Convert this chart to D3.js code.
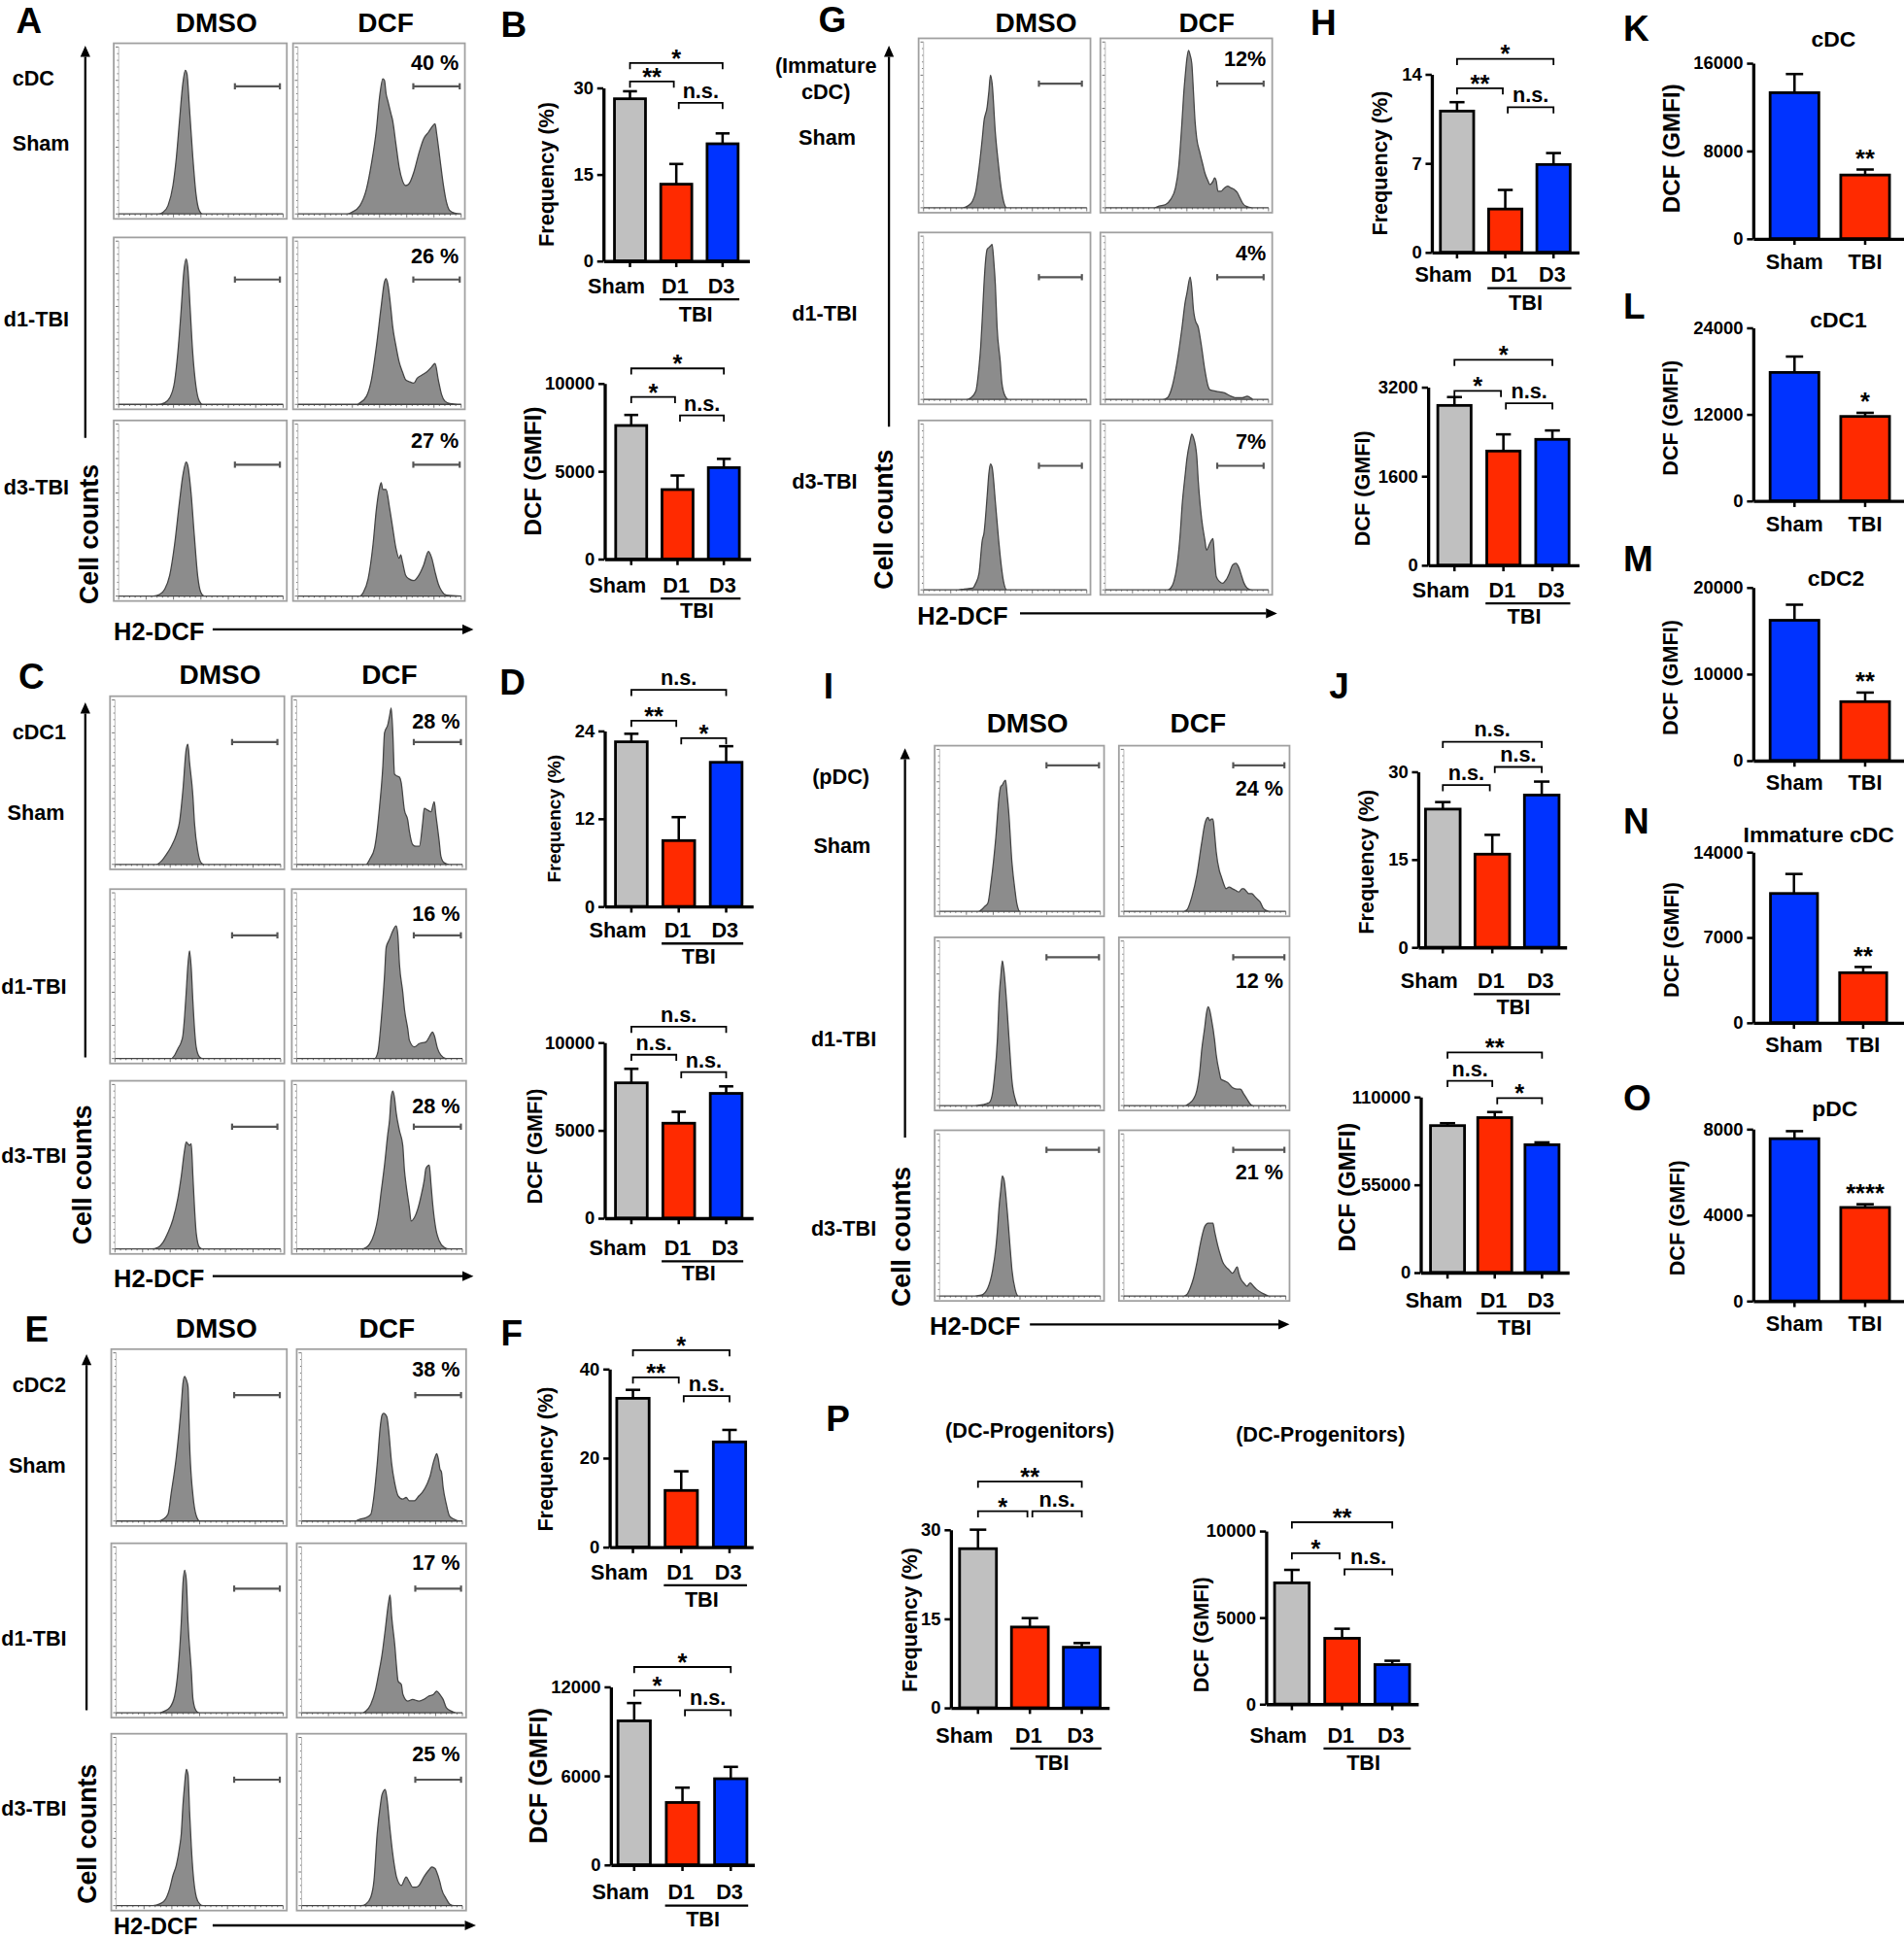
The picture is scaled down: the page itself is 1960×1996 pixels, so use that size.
<!DOCTYPE html>
<html><head><meta charset="utf-8">
<script src="https://cdn.jsdelivr.net/npm/d3@7"></script>
<style>
html,body{margin:0;padding:0;background:#fff;}
svg text{font-family:"Liberation Sans",Arial,Helvetica,sans-serif;font-weight:bold;fill:#000;}
</style></head><body>
<svg id="fig" width="1960" height="1996" style="background:#fff"></svg>
<script>
// ================= DATA =================
const groups3 = ["Sham","D1","D3"];
const groups2 = ["Sham","TBI"];
const colors3 = ["#c0c0c0","#ff2a00","#0033ff"];
const colors2 = ["#0033ff","#ff2a00"];

// Panel B (cDC)
const bFreqMean = [28.1, 13.3, 20.3], bFreqErr = [1.3, 3.5, 1.8];
const bGmfiMean = [7600, 3950, 5200], bGmfiErr = [600, 800, 500];
// Panel D (cDC1)
const dFreqMean = [22.5, 9.0, 19.7], dFreqErr = [1.1, 3.2, 2.2];
const dGmfiMean = [7700, 5400, 7100], dGmfiErr = [800, 650, 400];
// Panel F (cDC2)
const fFreqMean = [33.4, 12.7, 23.6], fFreqErr = [1.9, 4.3, 2.7];
const fGmfiMean = [9700, 4200, 5800], fGmfiErr = [1200, 1000, 800];
// Panel H (immature cDC)
const hFreqMean = [11.1, 3.4, 6.9], hFreqErr = [0.7, 1.5, 0.9];
const hGmfiMean = [2870, 2050, 2260], hGmfiErr = [150, 300, 160];
// Panel J (pDC)
const jFreqMean = [23.6, 15.9, 26.0], jFreqErr = [1.2, 3.3, 2.3];
const jGmfiMean = [92000, 97000, 80000], jGmfiErr = [1500, 3500, 1500];
// Panel P (DC progenitors)
const pFreqMean = [26.8, 13.6, 10.2], pFreqErr = [3.2, 1.5, 0.7];
const pGmfiMean = [7000, 3800, 2280], pGmfiErr = [750, 550, 220];
// Panels K-O (Sham vs TBI)
const kMean = [13300, 5800], kErr = [1700, 500];
const lMean = [17800, 11700], lErr = [2200, 500];
const mMean = [16200, 6800], mErr = [1800, 1050];
const nMean = [10600, 4100], nErr = [1600, 470];
const oMean = [7550, 4350], oErr = [350, 150];

// Tick labels
const ticksB1 = [0,15,30], ticksB2 = [0,5000,10000];
const ticksD1 = [0,12,24], ticksD2 = [0,5000,10000];
const ticksF1 = [0,20,40], ticksF2 = [0,6000,12000];
const ticksH1 = [0,7,14], ticksH2 = [0,1600,3200];
const ticksJ1 = [0,15,30], ticksJ2 = [0,55000,110000];
const ticksP1 = [0,15,30], ticksP2 = [0,5000,10000];
const ticksK = [0,8000,16000], ticksL = [0,12000,24000], ticksM = [0,10000,20000];
const ticksN = [0,7000,14000], ticksO = [0,4000,8000];

// Significance brackets: [fromIdx, toIdx, level (data units), label]
const sigB1 = [[0,2,34.3,"*"],[0,1,31.1,"**"],[1,2,27.4,"n.s."]];
const sigB2 = [[0,2,10850,"*"],[0,1,9220,"*"],[1,2,8170,"n.s."]];
const sigD1 = [[0,2,29.6,"n.s."],[0,1,25.4,"**"],[1,2,23.0,"*"]];
const sigD2 = [[0,2,10900,"n.s."],[0,1,9300,"n.s."],[1,2,8310,"n.s."]];
const sigF1 = [[0,2,44.2,"*"],[0,1,38.1,"**"],[1,2,33.9,"n.s."]];
const sigF2 = [[0,2,13330,"*"],[0,1,11750,"*"],[1,2,10420,"n.s."]];
const sigH1 = [[0,2,15.2,"*"],[0,1,12.9,"**"],[1,2,11.4,"n.s."]];
const sigH2 = [[0,2,3690,"*"],[0,1,3130,"*"],[1,2,2910,"n.s."]];
const sigJ1 = [[0,2,35.1,"n.s."],[1,2,30.8,"n.s."],[0,1,27.7,"n.s."]];
const sigJ2 = [[0,2,137900,"**"],[0,1,120000,"n.s."],[1,2,109200,"*"]];
const sigP1 = [[0,2,38.1,"**"],[0,1,33.1,"*"],[1,2,33.1,"n.s."]];
const sigP2 = [[0,2,10500,"**"],[0,1,8710,"*"],[1,2,7790,"n.s."]];
const starsKO = ["**","*","**","**","****"];

// Flow histograms: [relative H2-DCF channel (0-100), relative cell count (0-100)]
const hA_dmso_sham = [[0,0],[24,0],[27,1],[30,5],[33,17],[35,33],[37,56],[39,78],[40.5,86],[41.5,84],[43,64],[45,35],[47,12],[49,2],[51,0],[100,0]];
const hA_dmso_d1 = [[0,0],[24,0],[28,1],[31,4],[34,14],[36,32],[38,58],[39.5,80],[41,89],[42,84],[43.5,58],[45,32],[47,11],[49,2],[51,0],[100,0]];
const hA_dmso_d3 = [[0,0],[21,0],[25,1],[28,4],[31,12],[34,30],[37,55],[39,70],[41,78],[42,76],[44,60],[46,35],[48,12],[50,2],[52,0],[100,0]];
const hA_dcf_sham = [[0,0],[30,0],[33,1],[38,5],[42,15],[45,30],[48,50],[50,70],[52,81],[53,80],[54,72],[55,68],[57,60],[58,56],[60,42],[62,28],[64,20],[66,17],[68,18],[71,25],[74,36],[77,45],[80,49],[82,52],[84,54],[85,48],[87,33],[89,18],[91,7],[93,2],[96,0.5],[100,0]];
const hA_dcf_d1 = [[0,0],[36,0],[38,1],[42,5],[45,15],[48,35],[51,60],[53,75],[54,77],[55,74],[57,58],[58,48],[60,36],[62,26],[64,20],[66,15],[68,14],[71,13],[73,16],[76,18],[79,20],[82,23],[84,25],[86,15],[88,6],[90,2],[93,0.5],[100,0]];
const hA_dcf_d3 = [[0,0],[38,0],[40,2],[43,10],[46,30],[48,50],[50,63],[51,66],[52,62],[54,62],[56,52],[58,40],[60,28],[62,22],[63,24],[64,20],[66,12],[68,10],[71,9],[74,12],[77,18],[80,26],[82,22],[84,14],[86,7],[88,3],[91,0.5],[100,0]];

const hC_dmso_sham = [[0,0],[25,0],[28,2],[31,6],[34,11],[37,18],[39,26],[41,45],[43,70],[44,73],[45,62],[47,42],[48,25],[50,8],[52,1],[54,0],[100,0]];
const hC_dmso_d1 = [[0,0],[34,0],[36,2],[38,6],[40,10],[41,14],[42,25],[43,40],[44,56],[45,65],[46,55],[47,35],[48,18],[49,7],[51,1],[53,0],[100,0]];
const hC_dmso_d3 = [[0,0],[22,0],[26,1],[29,4],[32,10],[35,18],[38,31],[40,44],[42,60],[43,65],[45,63],[46,64],[47,45],[48,25],[49,10],[51,1],[53,0],[100,0]];
const hC_dcf_sham = [[0,0],[42,0],[44,3],[47,10],[48,16],[50,35],[52,60],[53,80],[55,85],[56,90],[57,95],[58,80],[59,55],[60,54],[62,53],[63,50],[65,33],[67,27],[68,20],[70,12],[72,11],[74,11],[76,25],[77,34],[79,33],[81,32],[83,38],[84,30],[86,14],[87,5],[89,1],[92,0],[100,0]];
const hC_dcf_d1 = [[0,0],[47,0],[49,4],[51,23],[53,50],[54,67],[56,72],[58,77],[60,80],[61,75],[62,57],[64,40],[65,30],[67,18],[68,11],[71,7],[74,9],[78,10],[80,13],[82,16],[83,14],[85,6],[87,2],[90,0],[100,0]];
const hC_dcf_d3 = [[0,0],[39,0],[42,1],[44,3],[47,10],[49,19],[51,35],[53,51],[55,70],[56,78],[57,92],[58,96],[59,92],[60,83],[62,72],[64,63],[65,48],[66,39],[68,25],[69,17],[71,19],[73,24],[75,32],[77,42],[78,49],[80,51],[81,40],[82,28],[84,12],[86,5],[89,1],[92,0],[100,0]];

const hE_dmso_sham = [[0,0],[25,0],[28,1],[31,4],[33,17],[36,38],[39,69],[40,82],[41,86],[42,84],[43,80],[44,45],[46,15],[48,3],[50,0],[100,0]];
const hE_dmso_d1 = [[0,0],[26,0],[29,1],[32,3],[35,10],[37,25],[39,55],[40,78],[41,86],[42,80],[43,55],[45,25],[46,8],[48,1],[50,0],[100,0]];
const hE_dmso_d3 = [[0,0],[22,0],[26,1],[29,3],[32,10],[34,18],[36,24],[38,35],[39,43],[40,60],[41,72],[42,81],[43,78],[44,55],[45,35],[46,20],[48,5],[50,1],[52,0],[100,0]];
const hE_dcf_sham = [[0,0],[33,0],[36,1],[40,2],[43,4],[45,15],[47,34],[49,57],[50,63],[51,64],[53,62],[54,55],[56,34],[58,22],[60,15],[63,13],[65,14],[67,12],[70,12],[73,15],[75,17],[78,22],[80,27],[82,35],[83,38],[84,40],[85,37],[86,31],[87,29],[88,20],[90,10],[92,3],[95,1],[98,0],[100,0]];
const hE_dcf_d1 = [[0,0],[38,0],[40,1],[43,5],[46,14],[48,24],[50,35],[52,50],[54,66],[55,71],[56,58],[58,40],[59,28],[60,19],[62,17],[63,11],[66,7],[69,8],[73,7],[76,8],[79,10],[82,11],[84,13],[86,11],[88,8],[90,3],[93,1],[96,0],[100,0]];
const hE_dcf_d3 = [[0,0],[37,0],[40,1],[43,5],[45,15],[47,43],[49,60],[50,66],[52,69],[53,64],[55,45],[56,36],[58,22],[59,17],[62,12],[65,17],[67,14],[69,11],[71,11],[73,12],[76,17],[79,21],[81,23],[83,22],[84,20],[86,14],[87,10],[90,4],[92,1],[95,0],[100,0]];

const hG_dmso_sham = [[0,0],[24,0],[27,1],[30,4],[32,10],[34,24],[36,42],[37,52],[39,61],[40,70],[41,80],[42,75],[44,45],[46,25],[47,16],[49,4],[51,0],[100,0]];
const hG_dmso_d1 = [[0,0],[26,0],[29,1],[32,5],[34,20],[35,32],[36,50],[37,70],[38,85],[39,92],[40,93],[41,94],[42,95],[43,85],[44,70],[45,45],[47,23],[48,10],[50,2],[52,0],[100,0]];
const hG_dmso_d3 = [[0,0],[20,0],[25,0.5],[30,1],[32,4],[34,10],[36,30],[37,34],[39,57],[40,70],[41,76],[42,74],[44,53],[46,30],[47,20],[49,5],[51,0],[100,0]];
const hG_dcf_sham = [[0,0],[30,0],[33,1],[37,2],[40,5],[43,12],[45,25],[47,52],[48,68],[49,80],[50,90],[51,95],[52,92],[53,87],[54,70],[55,52],[56,42],[58,33],[60,25],[61,21],[63,16],[64,14],[66,16],[67,18],[68,16],[69,10],[71,10],[73,12],[75,13],[77,12],[79,11],[81,9],[82,7],[84,3],[86,1],[90,0],[100,0]];
const hG_dcf_d1 = [[0,0],[35,0],[38,1],[41,8],[44,23],[47,44],[49,60],[50,65],[52,75],[53,68],[54,55],[55,49],[57,44],[59,32],[61,18],[63,8],[64,6],[68,5],[73,4],[77,2],[80,1],[84,1],[87,2],[89,1],[91,0],[100,0]];
const hG_dcf_d3 = [[0,0],[38,0],[40,1],[42,5],[44,15],[46,35],[47,50],[49,70],[50,79],[52,90],[53,94],[54,92],[56,81],[57,65],[59,43],[61,30],[62,24],[64,28],[66,31],[67,18],[68,8],[70,5],[72,4],[74,6],[76,10],[78,15],[80,16],[82,13],[83,10],[85,4],[87,1],[90,0],[100,0]];

const hI_dmso_sham = [[0,0],[24,0],[26,1],[28,3],[30,5],[32,18],[35,46],[37,71],[38,77],[39,78],[40,80],[41,81],[42,72],[43,61],[45,30],[47,12],[48,5],[50,0],[100,0]];
const hI_dmso_d1 = [[0,0],[22,0],[27,0.5],[31,2],[33,8],[34,16],[36,41],[37,65],[38,78],[39,88],[40,82],[42,58],[44,28],[45,15],[47,4],[49,0],[100,0]];
const hI_dmso_d3 = [[0,0],[22,0],[26,0.5],[30,5],[33,16],[35,30],[36,41],[37,55],[38,65],[39,74],[40,72],[42,53],[44,28],[45,16],[47,4],[49,0],[100,0]];
const hI_dcf_sham = [[0,0],[37,0],[39,1],[42,9],[45,22],[48,42],[50,54],[51,57],[52,58],[53,56],[54,57],[55,57],[56,48],[57,37],[59,25],[60,22],[62,16],[63,14],[65,15],[67,14],[69,13],[71,12],[73,14],[74,14],[76,12],[77,11],[79,11],[81,9],[83,7],[84,6],[86,2],[88,0.5],[90,0],[100,0]];
const hI_dcf_d1 = [[0,0],[38,0],[40,1],[43,4],[45,9],[47,22],[48,33],[50,48],[51,56],[52,60],[53,58],[54,53],[56,40],[57,31],[59,20],[60,16],[62,15],[64,14],[67,11],[70,10],[72,10],[74,7],[76,4],[78,1],[80,0],[100,0]];
const hI_dcf_d3 = [[0,0],[37,0],[39,1],[41,5],[43,11],[45,20],[47,31],[49,40],[50,43],[52,45],[54,45],[55,45],[56,40],[58,31],[60,24],[61,21],[63,18],[65,16],[67,14],[68,15],[70,18],[71,14],[72,11],[74,8],[76,6],[78,8],[80,6],[82,4],[85,2],[87,1],[90,0],[100,0]];

// Percent of DCF-high cells
const pctA = ["40 %","26 %","27 %"];
const pctC = ["28 %","16 %","28 %"];
const pctE = ["38 %","17 %","25 %"];
const pctG = ["12%","4%","7%"];
const pctI = ["24 %","12 %","21 %"];

const rowsA = ["cDC","Sham","d1-TBI","d3-TBI"];
const rowsC = ["cDC1","Sham","d1-TBI","d3-TBI"];
const rowsE = ["cDC2","Sham","d1-TBI","d3-TBI"];
const rowsG = ["(Immature","cDC)","Sham","d1-TBI","d3-TBI"];
const rowsI = ["(pDC)","Sham","d1-TBI","d3-TBI"];

// ================= DRAWING =================
const SX = 1960/1540, SY = 1996/1568;
const svg = d3.select("#fig");
svg.append("rect").attr("width",1960).attr("height",1996).attr("fill","#fff");
const root = svg.append("g").attr("transform",`scale(${SX},${SY})`);

function txt(g, s, x, y, size, anchor, rot) {
  const t = g.append("text").text(s).attr("font-size", size).attr("text-anchor", anchor || "start");
  if (rot) t.attr("transform", `translate(${x},${y}) rotate(-90)`);
  else t.attr("x", x).attr("y", y);
  return t;
}
function arrowLine(g, x1, y1, x2, y2) {
  const a = Math.atan2(y2 - y1, x2 - x1), L = 9, W = 4;
  const bx = x2 - L * Math.cos(a), by = y2 - L * Math.sin(a);
  g.append("line").attr("x1", x1).attr("y1", y1).attr("x2", bx).attr("y2", by)
    .attr("stroke", "#000").attr("stroke-width", 1.8);
  const px = -Math.sin(a) * W, py = Math.cos(a) * W;
  g.append("path").attr("d", `M${x2},${y2}L${bx + px},${by + py}L${bx - px},${by - py}Z`).attr("fill", "#000");
}

function histBox(g, box, data, gate, gateFrac, pct, pctFrac) {
  const [x0, y0, x1, y1] = box;
  const bg = g.append("g");
  bg.append("rect").attr("x", x0).attr("y", y0).attr("width", x1 - x0).attr("height", y1 - y0)
    .attr("fill", "#fff").attr("stroke", "#a0a0a0").attr("stroke-width", 1.4);
  const xs = d3.scaleLinear().domain([0, 100]).range([x0 + 4, x1 - 3]);
  const ys = d3.scaleLinear().domain([0, 100]).range([y1 - 4, y0 + 3]);
  const tk = bg.append("g").attr("stroke", "#777").attr("stroke-width", 0.8);
  d3.range(0, 100.1, 4).forEach((v, i) => {
    const major = i % 5 === 0;
    tk.append("line").attr("x1", xs(0) - (major ? 2.5 : 1.3)).attr("x2", xs(0)).attr("y1", ys(v)).attr("y2", ys(v));
  });
  d3.range(0, 100.1, 100 / 30).forEach((v, i) => {
    const major = i % 5 === 0;
    tk.append("line").attr("x1", xs(v)).attr("x2", xs(v)).attr("y1", ys(0)).attr("y2", ys(0) + (major ? 2.8 : 1.3));
  });
  tk.append("line").attr("x1", xs(0)).attr("x2", xs(0)).attr("y1", ys(0)).attr("y2", ys(100)).attr("stroke", "#bbb");
  const area = d3.area().x(d => xs(d[0])).y0(ys(0)).y1(d => ys(d[1])).curve(d3.curveMonotoneX);
  bg.append("path").datum(data).attr("d", area).attr("fill", "#8c8c8c").attr("stroke", "#444").attr("stroke-width", 1);
  const fx = d3.scaleLinear().domain([0, 100]).range([x0, x1]);
  const gy = y0 + gateFrac * (y1 - y0);
  const gg = bg.append("g").attr("stroke", "#555").attr("stroke-width", 1.7);
  gg.append("line").attr("x1", fx(gate[0])).attr("x2", fx(gate[1])).attr("y1", gy).attr("y2", gy);
  gg.append("line").attr("x1", fx(gate[0])).attr("x2", fx(gate[0])).attr("y1", gy - 2.5).attr("y2", gy + 2.5);
  gg.append("line").attr("x1", fx(gate[1])).attr("x2", fx(gate[1])).attr("y1", gy - 2.5).attr("y2", gy + 2.5);
  if (pct) txt(bg, pct, x1 - 5, y0 + pctFrac * (y1 - y0), 17, "end");
}

function histPanel(p) {
  const g = root.append("g");
  txt(g, p.letter, p.letterPos[0], p.letterPos[1], 29);
  txt(g, "DMSO", p.headX[0], p.headY, 22, "middle");
  txt(g, "DCF", p.headX[1], p.headY, 22, "middle");
  p.rowLabels.forEach((s, i) => txt(g, s, p.rowPos[i][0], p.rowPos[i][1], 17, p.rowAnchor));
  arrowLine(g, p.vArrow[0], p.vArrow[1], p.vArrow[0], p.vArrow[2]);
  txt(g, "Cell counts", p.cellCounts[0] + 6, p.cellCounts[1], 21, "middle", true);
  txt(g, "H2-DCF", p.h2[0], p.h2[1], p.h2[2] || 20);
  arrowLine(g, p.hArrow[0], p.hArrow[2], p.hArrow[1], p.hArrow[2]);
  p.rows.forEach((r, i) => {
    histBox(g, [p.dmsoX[0], r[0], p.dmsoX[1], r[1]], p.dmso[i], p.gateD, p.gateFrac, null, 0);
    histBox(g, [p.dcfX[0], r[0], p.dcfX[1], r[1]], p.dcf[i], p.gateC, p.gateFrac, p.pct[i], p.pctFrac);
  });
}

function barChart(c) {
  const g = root.append("g");
  const y = d3.scaleLinear().domain([0, c.max]).range([c.y0, c.yTop]);
  const x = d3.scaleBand().domain(c.cats).range([c.ax, c.axEnd]).paddingInner(c.pi).paddingOuter(c.po);
  const bw = x.bandwidth();
  const cx = k => x(k) + bw / 2;
  g.selectAll("rect.bar").data(c.cats).join("rect").attr("class", "bar")
    .attr("x", k => x(k)).attr("width", bw)
    .attr("y", (k, i) => y(c.mean[i])).attr("height", (k, i) => c.y0 - y(c.mean[i]))
    .attr("fill", (k, i) => c.colors[i]).attr("stroke", "#000").attr("stroke-width", 2.2);
  const capW = Math.min(bw * 0.45, 14);
  c.cats.forEach((k, i) => {
    const yt = y(c.mean[i] + c.err[i]), yb = y(c.mean[i]);
    g.append("line").attr("x1", cx(k)).attr("x2", cx(k)).attr("y1", yb).attr("y2", yt).attr("stroke", "#000").attr("stroke-width", 2);
    g.append("line").attr("x1", cx(k) - capW / 2).attr("x2", cx(k) + capW / 2).attr("y1", yt).attr("y2", yt).attr("stroke", "#000").attr("stroke-width", 2);
  });
  const yg = g.append("g").attr("transform", `translate(${c.ax},0)`)
    .call(d3.axisLeft(y).tickValues(c.ticks).tickFormat(d3.format("d")).tickSize(5).tickSizeOuter(0).tickPadding(3));
  yg.attr("font-size", 14.5).attr("font-family", '"Liberation Sans", Arial, sans-serif').attr("font-weight", "bold");
  yg.select(".domain").attr("stroke-width", 2.6);
  yg.selectAll(".tick line").attr("stroke-width", 2);
  const xg = g.append("g").attr("transform", `translate(0,${c.y0})`)
    .call(d3.axisBottom(x).tickSize(5).tickSizeOuter(0).tickFormat(""));
  xg.select(".domain").attr("stroke-width", 2.6);
  xg.selectAll(".tick line").attr("stroke-width", 2);
  const ly = c.y0 + c.labDy;
  if (c.cats.length === 3) {
    txt(g, c.cats[0], cx(c.cats[0]) - 11, ly, 17, "middle");
    txt(g, c.cats[1], cx(c.cats[1]) - 1, ly, 17, "middle");
    txt(g, c.cats[2], cx(c.cats[2]) - 1, ly, 17, "middle");
    g.append("line").attr("x1", x(c.cats[1]) - 1).attr("x2", x(c.cats[2]) + bw + 1)
      .attr("y1", ly + 5).attr("y2", ly + 5).attr("stroke", "#000").attr("stroke-width", 1.8);
    txt(g, "TBI", (x(c.cats[1]) + x(c.cats[2]) + bw) / 2 - 3, c.y0 + c.tbiDy, 17, "middle");
  } else {
    c.cats.forEach(k => txt(g, k, cx(k), ly, 17, "middle"));
  }
  txt(g, c.ylabel, c.ylx + 0.3 * c.yls, c.yly, c.yls, "middle", true);
  (c.sig || []).forEach(s => {
    const [fi, ti, lvl, lab] = s;
    const xa = cx(c.cats[fi]) + (fi === 1 ? 2 : 0), xb = cx(c.cats[ti]) - (ti === 1 ? 2 : 0);
    const yb = y(lvl);
    g.append("path").attr("d", `M${xa},${yb + 5}V${yb}H${xb}V${yb + 5}`)
      .attr("fill", "none").attr("stroke", "#000").attr("stroke-width", 1.4);
    if (lab[0] === "*") txt(g, lab, (xa + xb) / 2, yb + 3, 20, "middle");
    else txt(g, lab, (xa + xb) / 2, yb - 4, 17, "middle");
  });
  if (c.title) txt(g, c.title, c.titleX, c.titleY, 18, "middle");
  if (c.star) {
    const k = c.cats[1];
    txt(g, c.star, cx(k), y(c.mean[1] + c.err[1]) - 2, 20, "middle");
  }
}

// ---- histogram panels ----
histPanel({letter:"A", letterPos:[13,27], headX:[175,312], headY:26,
  rowLabels:rowsA, rowPos:[[10,69],[10,122],[3,264],[3,400]], rowAnchor:"start",
  dmsoX:[92,232], dcfX:[237,376], rows:[[35,177],[192,331],[340,486]],
  vArrow:[69,354,37], cellCounts:[73,432], h2:[92,518], hArrow:[172,383,509],
  gateD:[70,96], gateC:[70,97], gateFrac:0.245, pctFrac:0.15,
  dmso:[hA_dmso_sham,hA_dmso_d1,hA_dmso_d3], dcf:[hA_dcf_sham,hA_dcf_d1,hA_dcf_d3], pct:pctA});
histPanel({letter:"C", letterPos:[15,557], headX:[178,315], headY:553,
  rowLabels:rowsC, rowPos:[[10,598],[6,663],[1,804],[1,940]], rowAnchor:"start",
  dmsoX:[89,230], dcfX:[236,377], rows:[[563,703],[719,860],[874,1014]],
  vArrow:[69,855,568], cellCounts:[68,950], h2:[92,1041], hArrow:[172,383,1032],
  gateD:[70,96], gateC:[70,97], gateFrac:0.265, pctFrac:0.185,
  dmso:[hC_dmso_sham,hC_dmso_d1,hC_dmso_d3], dcf:[hC_dcf_sham,hC_dcf_d1,hC_dcf_d3], pct:pctC});
histPanel({letter:"E", letterPos:[20,1085], headX:[175,313], headY:1082,
  rowLabels:rowsE, rowPos:[[10,1126],[7,1191],[1,1331],[1,1468]], rowAnchor:"start",
  dmsoX:[90,232], dcfX:[240,377], rows:[[1091,1234],[1248,1389],[1402,1545]],
  vArrow:[70,1383,1095], cellCounts:[72,1483], h2:[92,1564,18.5], hArrow:[172,385,1557],
  gateD:[70,96], gateC:[70,97], gateFrac:0.26, pctFrac:0.155,
  dmso:[hE_dmso_sham,hE_dmso_d1,hE_dmso_d3], dcf:[hE_dcf_sham,hE_dcf_d1,hE_dcf_d3], pct:pctE});
histPanel({letter:"G", letterPos:[662,26], headX:[838,976], headY:26,
  rowLabels:rowsG, rowPos:[[668,59],[668,80],[669,117],[667,259],[667,395]], rowAnchor:"middle",
  dmsoX:[743,882], dcfX:[890,1029], rows:[[31,172],[188,327],[340,481]],
  vArrow:[719,345,37], cellCounts:[716,420], h2:[742,505], hArrow:[825,1033,496],
  gateD:[70,95], gateC:[68,95], gateFrac:0.26, pctFrac:0.16,
  dmso:[hG_dmso_sham,hG_dmso_d1,hG_dmso_d3], dcf:[hG_dcf_sham,hG_dcf_d1,hG_dcf_d3], pct:pctG});
histPanel({letter:"I", letterPos:[666,565], headX:[831,969], headY:592,
  rowLabels:rowsI, rowPos:[[657,634],[658,690],[656,846],[656,999]], rowAnchor:"start",
  dmsoX:[756,893], dcfX:[905,1043], rows:[[603,741],[758,898],[914,1052]],
  vArrow:[732,920,605], cellCounts:[730,1000], h2:[752,1079], hArrow:[833,1043,1071],
  gateD:[66,97], gateC:[67,97], gateFrac:0.115, pctFrac:0.29,
  dmso:[hI_dmso_sham,hI_dmso_d1,hI_dmso_d3], dcf:[hI_dcf_sham,hI_dcf_d1,hI_dcf_d3], pct:pctI});

// ---- panel letters for bar panels ----
[["B",405,30],["D",404,562],["F",405,1088],["H",1060,28],["J",1075,565],
 ["K",1313,33],["L",1313,258],["M",1313,462],["N",1313,674],["O",1313,898],["P",668,1157]]
  .forEach(d => txt(root, d[0], d[1], d[2], 29));

// ---- 3-group bar charts ----
const FREQ = "Frequency (%)", GMFI = "DCF (GMFI)";
barChart({cats:groups3, colors:colors3, mean:bFreqMean, err:bFreqErr, ticks:ticksB1, max:30, ax:488, axEnd:606, y0:211, yTop:71, pi:.33, po:.24, labDy:26, tbiDy:49, ylabel:FREQ, ylx:443, yly:141, yls:17, sig:sigB1});
barChart({cats:groups3, colors:colors3, mean:bGmfiMean, err:bGmfiErr, ticks:ticksB2, max:10000, ax:489, axEnd:607, y0:452, yTop:310, pi:.33, po:.24, labDy:27, tbiDy:48, ylabel:GMFI, ylx:432, yly:381, yls:19, sig:sigB2});
barChart({cats:groups3, colors:colors3, mean:dFreqMean, err:dFreqErr, ticks:ticksD1, max:24, ax:489, axEnd:609, y0:733, yTop:591, pi:.33, po:.23, labDy:25, tbiDy:46, ylabel:FREQ, ylx:449, yly:662, yls:15, sig:sigD1});
barChart({cats:groups3, colors:colors3, mean:dGmfiMean, err:dGmfiErr, ticks:ticksD2, max:10000, ax:489, axEnd:609, y0:985, yTop:843, pi:.33, po:.23, labDy:30, tbiDy:50, ylabel:GMFI, ylx:433, yly:927, yls:17, sig:sigD2});
barChart({cats:groups3, colors:colors3, mean:fFreqMean, err:fFreqErr, ticks:ticksF1, max:40, ax:493, axEnd:609, y0:1251, yTop:1107, pi:.33, po:.15, labDy:26, tbiDy:48, ylabel:FREQ, ylx:442, yly:1180, yls:17, sig:sigF1});
barChart({cats:groups3, colors:colors3, mean:fGmfiMean, err:fGmfiErr, ticks:ticksF2, max:12000, ax:494, axEnd:610, y0:1508, yTop:1364, pi:.33, po:.15, labDy:28, tbiDy:50, ylabel:GMFI, ylx:436, yly:1436, yls:20, sig:sigF2});
barChart({cats:groups3, colors:colors3, mean:hFreqMean, err:hFreqErr, ticks:ticksH1, max:14, ax:1158, axEnd:1277, y0:204, yTop:60, pi:.31, po:.18, labDy:24, tbiDy:47, ylabel:FREQ, ylx:1117, yly:132, yls:17, sig:sigH1});
barChart({cats:groups3, colors:colors3, mean:hGmfiMean, err:hGmfiErr, ticks:ticksH2, max:3200, ax:1155, axEnd:1277, y0:457, yTop:313, pi:.32, po:.2, labDy:26, tbiDy:47, ylabel:GMFI, ylx:1103, yly:395, yls:17, sig:sigH2});
barChart({cats:groups3, colors:colors3, mean:jFreqMean, err:jFreqErr, ticks:ticksJ1, max:30, ax:1147, axEnd:1267, y0:766, yTop:624, pi:.3, po:.15, labDy:33, tbiDy:54, ylabel:FREQ, ylx:1106, yly:697, yls:17, sig:sigJ1});
barChart({cats:groups3, colors:colors3, mean:jGmfiMean, err:jGmfiErr, ticks:ticksJ2, max:110000, ax:1149, axEnd:1269, y0:1029, yTop:887, pi:.28, po:.21, labDy:28, tbiDy:50, ylabel:GMFI, ylx:1090, yly:960, yls:19, sig:sigJ2});
barChart({cats:groups3, colors:colors3, mean:pFreqMean, err:pFreqErr, ticks:ticksP1, max:30, ax:769, axEnd:897, y0:1381, yTop:1237, pi:.29, po:.17, labDy:28, tbiDy:50, ylabel:FREQ, ylx:737, yly:1310, yls:17, sig:sigP1});
barChart({cats:groups3, colors:colors3, mean:pGmfiMean, err:pGmfiErr, ticks:ticksP2, max:10000, ax:1024, axEnd:1147, y0:1378, yTop:1238, pi:.31, po:.17, labDy:31, tbiDy:53, ylabel:GMFI, ylx:972, yly:1322, yls:17, sig:sigP2});
txt(root, "(DC-Progenitors)", 833, 1163, 17, "middle");
txt(root, "(DC-Progenitors)", 1068, 1166, 17, "middle");

// ---- 2-group bar charts (K-O) ----
barChart({cats:groups2, colors:colors2, mean:kMean, err:kErr, ticks:ticksK, max:16000, ax:1418, axEnd:1542, y0:193, yTop:51, pi:.31, po:.24, labDy:25, ylabel:GMFI, ylx:1353, yly:120, yls:19, title:"cDC", titleX:1483, titleY:38, star:starsKO[0]});
barChart({cats:groups2, colors:colors2, mean:lMean, err:lErr, ticks:ticksL, max:24000, ax:1418, axEnd:1542, y0:405, yTop:265, pi:.31, po:.24, labDy:25, ylabel:GMFI, ylx:1352, yly:338, yls:17, title:"cDC1", titleX:1487, titleY:265, star:starsKO[1]});
barChart({cats:groups2, colors:colors2, mean:mMean, err:mErr, ticks:ticksM, max:20000, ax:1418, axEnd:1542, y0:615, yTop:475, pi:.31, po:.24, labDy:24, ylabel:GMFI, ylx:1352, yly:548, yls:17, title:"cDC2", titleX:1485, titleY:474, star:starsKO[2]});
barChart({cats:groups2, colors:colors2, mean:nMean, err:nErr, ticks:ticksN, max:14000, ax:1418, axEnd:1540, y0:827, yTop:689, pi:.32, po:.25, labDy:24, ylabel:GMFI, ylx:1353, yly:760, yls:17, title:"Immature cDC", titleX:1471, titleY:681, star:starsKO[3]});
barChart({cats:groups2, colors:colors2, mean:oMean, err:oErr, ticks:ticksO, max:8000, ax:1418, axEnd:1542, y0:1052, yTop:913, pi:.31, po:.24, labDy:24, ylabel:GMFI, ylx:1357, yly:985, yls:17, title:"pDC", titleX:1484, titleY:903, star:starsKO[4]});
</script>
</body></html>
